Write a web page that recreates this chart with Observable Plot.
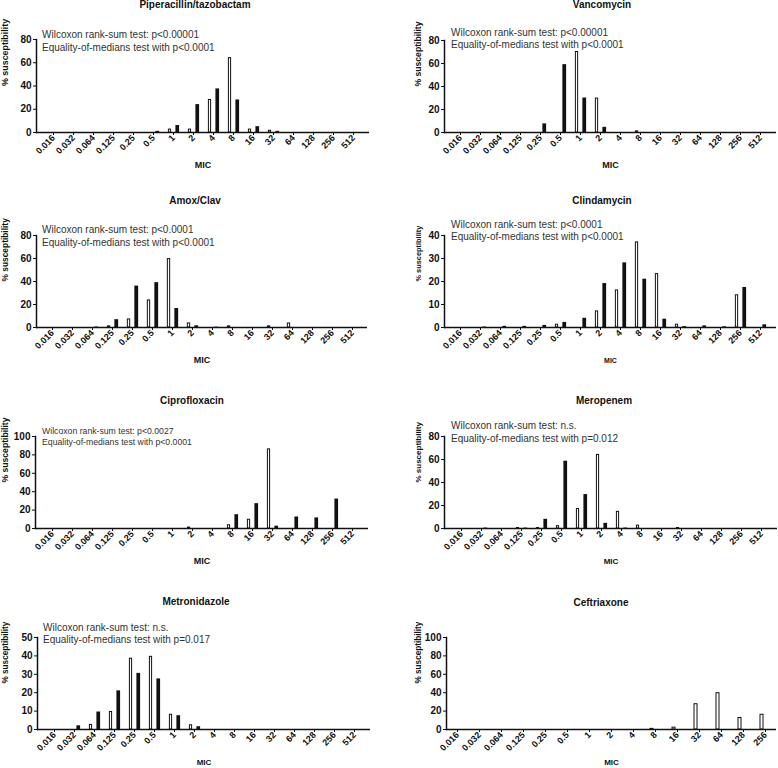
<!DOCTYPE html>
<html><head><meta charset="utf-8">
<script src="https://cdn.jsdelivr.net/npm/d3@7"></script>
<script src="https://cdn.jsdelivr.net/npm/@observablehq/plot@0.6"></script>
<style>
html,body{margin:0;background:#fff;overflow:hidden;}
#root{position:relative;width:778px;height:768px;font-family:"Liberation Sans",Arial,sans-serif;}
.title{position:absolute;font-weight:bold;font-size:10px;line-height:1;transform:translate(-50%,-50%);white-space:nowrap;color:#111;}
.note{position:absolute;font-size:10px;line-height:1;color:#333;white-space:nowrap;transform:translateY(-50%);}
#root svg{position:absolute;overflow:visible;}
</style></head><body><div id="root"></div>
<script>
// ---- data ----
const micFull = ["0.016","0.032","0.064","0.125","0.25","0.5","1","2","4","8","16","32","64","128","256","512"];
const micCeft = ["0.016","0.032","0.064","0.125","0.25","0.5","1","2","4","8","16","32","64","128","256"];

const titles = ["Piperacillin/tazobactam","Vancomycin","Amox/Clav","Clindamycin","Ciprofloxacin","Meropenem","Metronidazole","Ceftriaxone"];
const wilcoxon = ["Wilcoxon rank-sum test: p<0.00001","Wilcoxon rank-sum test: p<0.00001","Wilcoxon rank-sum test: p<0.0001","Wilcoxon rank-sum test: p<0.0001","Wilcoxon rank-sum test: p<0.0027","Wilcoxon rank-sum test: n.s.","Wilcoxon rank-sum test: n.s.",""];
const medians = ["Equality-of-medians test with p<0.0001","Equality-of-medians test with p<0.0001","Equality-of-medians test with p<0.0001","Equality-of-medians test with p<0.0001","Equality-of-medians test with p<0.0001","Equality-of-medians test with p=0.012","Equality-of-medians test with p=0.017",""];

const pipWhite   = [0,0,0,0,0,0,2.5,2.5,28,64,2.5,1.5,0,0,0,0];
const pipBlack   = [0,0,0,0,0,1,6,24,37.5,28,5,1,0,0,0,0];
const vancWhite  = [0,0,0,0,0,0,70,29.5,0,1,0,0,0,0,0,0];
const vancBlack  = [0,0,0,0,7.5,59,30,4.5,0,0,0,0,0,0,0,0];
const amoxWhite  = [0,0,0,1,7,23.5,59.5,3.5,0,1,0,1,3.5,0,0,0];
const amoxBlack  = [0,0,0.4,6.8,36,39,16.5,1.5,0.3,0,0,0,0,0,0,0];
const clinWhite  = [0,0,0,0,0,1.2,0,7,16.1,37,23.2,1.2,0,0,14,0];
const clinBlack  = [0,0.2,0.5,0.5,0.9,2.2,4,19.1,28.1,21,3.6,0.4,0.7,0.3,17.4,1.2];
const cipWhite   = [0,0,0,0,0,0,0,1,0,3.5,9.5,86,0,0,0,0];
const cipBlack   = [0,0,0,0,0,0,0,0,0,15,27,2.5,12.5,11.5,32,0];
const meroWhite  = [0,0,0,0.4,0.4,2,17,64,14.5,2.5,0,0.4,0,0,0,0];
const meroBlack  = [0,0.4,0,0.4,8,58.5,29.5,4.5,0.4,0,0,0,0,0,0,0];
const metWhite   = [0,0,2.5,9.5,38.5,39.5,8,2.3,0,0,0,0,0,0,0,0];
const metBlack   = [0,2,9.5,21,30.5,27.5,7.5,1.5,0,0,0,0,0,0,0,0];
const ceftWhite  = [0,0,0,0,0,0,0,0,0,0.7,2,27.5,39.5,12.5,16];
const ceftBlack  = [0,0,0,0,0,0,0,0,0,0,0,0,0,0,0];

const yTicks = [[0,20,40,60,80],[0,20,40,60,80],[0,20,40,60,80],[0,10,20,30,40],[0,20,40,60,80,100],[0,20,40,60,80],[0,10,20,30,40,50],[0,20,40,60,80,100]];

// ---- layout (styles only) ----
const layout = [
  {x0:0,   y0:0,   ml:36, mr:20, top:39,  zero:132, tx:195, ty:5,   nx:42,  ny:35,  ny2:48,  ns:10,  yl:8.9, ms:9},
  {x0:389, y0:0,   ml:55, mr:2,  top:40,  zero:132, tx:602, ty:5,   nx:451, ny:33,  ny2:45,  ns:10,  yl:8.6, ms:9},
  {x0:0,   y0:196, ml:36, mr:22, top:235, zero:327, tx:195, ty:201, nx:42,  ny:230, ny2:243, ns:10,  yl:8.4, ms:9},
  {x0:389, y0:196, ml:55, mr:2,  top:235, zero:327, tx:602, ty:201, nx:451, ny:225, ny2:237, ns:10,  yl:7.4, ms:7},
  {x0:0,   y0:394, ml:35, mr:21, top:436, zero:528, tx:192, ty:401, nx:42,  ny:431, ny2:442, ns:8.7, yl:8.6, ms:9},
  {x0:389, y0:394, ml:55, mr:1,  top:436, zero:528, tx:604, ty:401, nx:451, ny:426, ny2:439, ns:10,  yl:8,   ms:8},
  {x0:0,   y0:594, ml:37, mr:19, top:637, zero:729, tx:196, ty:602, nx:43,  ny:628, ny2:640, ns:10,  yl:8.2, ms:8},
  {x0:389, y0:594, ml:57, mr:2,  top:637, zero:729, tx:601, ty:603, nx:0,   ny:0,   ny2:0,   ns:10,  yl:8.2, ms:8}
];

const whites = [pipWhite, vancWhite, amoxWhite, clinWhite, cipWhite, meroWhite, metWhite, ceftWhite];
const blacks = [pipBlack, vancBlack, amoxBlack, clinBlack, cipBlack, meroBlack, metBlack, ceftBlack];
const micsFor = [micFull, micFull, micFull, micFull, micFull, micFull, micFull, micCeft];

const root = document.getElementById("root");
const FONT = '"Liberation Sans", Arial, sans-serif';

for (let k = 0; k < 8; k++) {
  const L = layout[k];
  const mics = micsFor[k];
  const W = 389;
  const H = Math.min(198, 768 - L.y0);
  const marginTop = L.top - L.y0;
  const marginBottom = H - (L.zero - L.y0);
  const step = (W - L.ml - L.mr) / mics.length;
  const rows = mics.map((m, i) => ({mic: m, white: whites[k][i], black: blacks[k][i]}));
  const ymax = yTicks[k][yTicks[k].length - 1];

  const svg = Plot.plot({
    width: W, height: H,
    marginLeft: L.ml, marginRight: L.mr, marginTop, marginBottom,
    style: {fontFamily: FONT, fontSize: "10px", fontWeight: "bold", color: "#111", background: "transparent"},
    x: {type: "band", domain: mics, padding: 0},
    y: {domain: [0, ymax]},
    marks: [
      Plot.barY(rows.filter(d => d.white > 0), {x: "mic", y: "white", fill: "white", stroke: "#111", strokeWidth: 1,
        insetLeft: step / 2 - 5, insetRight: step / 2 + 2}),
      Plot.barY(rows.filter(d => d.black > 0), {x: "mic", y: "black", fill: "#111",
        insetLeft: step / 2 + 2, insetRight: step / 2 - 6.5}),
      Plot.ruleY([0], {stroke: "#111", strokeWidth: 1.5}),
      Plot.frame({anchor: "left", stroke: "#111", strokeWidth: 1.5}),
      Plot.axisY({ticks: yTicks[k], tickSize: 3, tickPadding: 2, label: null, fontSize: 10, stroke: "#111"}),
      Plot.axisX({tickSize: 3, tickRotate: -45, tickPadding: 1, label: null, fontSize: 9, stroke: "#111"}),
      Plot.text(["% susceptibility"], {text: d => d, frameAnchor: "left", dx: -(L.ml - (k % 2 === 0 ? 5 : 29)), rotate: -90,
        fontSize: L.yl, fontWeight: "bold", fill: "#111"}),
      Plot.text(["MIC"], {text: d => d, frameAnchor: "bottom", dy: 35, fontSize: L.ms, fontWeight: "bold", fill: "#111"})
    ]
  });
  svg.style.left = L.x0 + "px";
  svg.style.top = L.y0 + "px";
  root.appendChild(svg);

  const t = document.createElement("div");
  t.className = "title";
  t.textContent = titles[k];
  t.style.left = L.tx + "px";
  t.style.top = L.ty + "px";
  root.appendChild(t);

  if (wilcoxon[k]) {
    [[wilcoxon[k], L.ny], [medians[k], L.ny2]].forEach(([txt, y]) => {
      const n = document.createElement("div");
      n.className = "note";
      n.textContent = txt;
      n.style.left = L.nx + "px";
      n.style.top = y + "px";
      n.style.fontSize = L.ns + "px";
      root.appendChild(n);
    });
  }
}
</script>
</body></html>
